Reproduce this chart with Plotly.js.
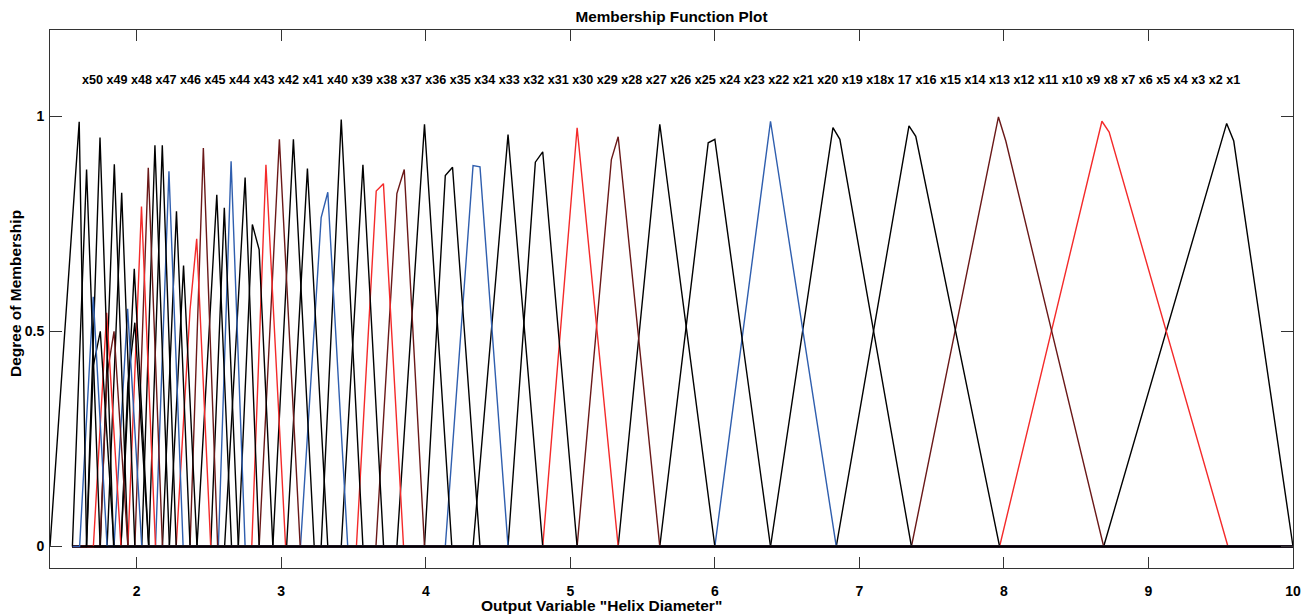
<!DOCTYPE html>
<html>
<head>
<meta charset="utf-8">
<script src="https://cdn.plot.ly/plotly-3.0.1.min.js"></script>
<style>html,body{margin:0;padding:0;background:#fff;}#chart{width:1307px;height:615px;}</style>
</head>
<body>
<div id="chart"></div>
<script>
// Membership functions, left to right (x50 ... x1)
const mfNames = ['x50','x49','x48','x47','x46','x45','x44','x43','x42','x41','x40','x39','x38','x37','x36','x35','x34','x33','x32','x31','x30','x29','x28','x27','x26','x25','x24','x23','x22','x21','x20','x19','x18','x17','x16','x15','x14','x13','x12','x11','x10','x9','x8','x7','x6','x5','x4','x3','x2','x1'];
const mfColorKey = ['K','K','B','K','K','R','M','K','K','B','K','K','R','M','K','K','B','K','K','R','M','K','K','B','K','K','R','M','K','K','B','K','K','R','M','K','K','B','K','K','R','M','K','K','B','K','K','M','R','K'];
const mfFootL = [1.40,1.555,1.605,1.653,1.652,1.70,1.746,1.748,1.795,1.843,1.891,1.891,1.939,1.987,2.035,2.083,2.130,2.178,2.226,2.273,2.369,2.417,2.512,2.565,2.608,2.703,2.796,2.847,2.942,3.037,3.133,3.276,3.415,3.52,3.655,3.800,3.991,4.135,4.327,4.569,4.809,5.047,5.331,5.619,6.0,6.385,6.84,7.36,7.97,8.69];
const mfFootR = [1.653,1.747,1.795,1.843,1.84,1.891,1.939,1.939,1.987,2.035,2.083,2.083,2.130,2.178,2.226,2.273,2.321,2.369,2.417,2.512,2.560,2.656,2.703,2.750,2.847,2.942,3.03,3.131,3.228,3.322,3.46,3.565,3.708,3.846,3.991,4.18,4.375,4.569,4.809,5.047,5.331,5.619,6.0,6.385,6.84,7.36,7.97,8.69,9.55,10.0];
const mfTopX = [[1.602],[1.653],[1.699],[1.700,1.748],[1.746],[1.792],[1.795,1.843],[1.845],[1.896],[1.937],[1.939,1.987],[1.983],[2.033],[2.080],[2.126],[2.177],[2.223],[2.275],[2.324],[2.369,2.415],[2.461],[2.554],[2.606],[2.653],[2.750],[2.800,2.847],[2.894],[2.987],[3.084],[3.181],[3.276,3.322],[3.415],[3.565],[3.657,3.707],[3.800,3.851],[3.991],[4.135,4.185],[4.327,4.375],[4.569],[4.758,4.809],[5.047],[5.284,5.331],[5.619],[5.954,6.0],[6.385],[6.817,6.865],[7.343,7.390],[7.962,8.013],[8.678,8.728],[9.541,9.590]];
const mfTopY = [[0.987],[0.876],[0.58],[0.42,0.5],[0.95],[0.543],[0.4,0.5],[0.888],[0.822],[0.552],[0.38,0.52],[0.645],[0.79],[0.88],[0.932],[0.932],[0.872],[0.779],[0.653],[0.55,0.715],[0.926],[0.817],[0.787],[0.895],[0.857],[0.748,0.69],[0.887],[0.946],[0.946],[0.878],[0.764,0.823],[0.992],[0.887],[0.826,0.843],[0.82,0.876],[0.981],[0.862,0.881],[0.885,0.882],[0.957],[0.893,0.917],[0.973],[0.899,0.952],[0.981],[0.938,0.946],[0.988],[0.973,0.946],[0.977,0.953],[0.998,0.942],[0.988,0.963],[0.983,0.942]];
const rangeX = [1.4, 10];
const baselineStart = 1.555;
const labelTokens = ['x50','x49','x48','x47','x46','x45','x44','x43','x42','x41','x40','x39','x38','x37','x36','x35','x34','x33','x32','x31','x30','x29','x28','x27','x26','x25','x24','x23','x22','x21','x20','x19','x18x','17','x16','x15','x14','x13','x12','x11','x10','x9','x8','x7','x6','x5','x4','x3','x2','x1'];
const xTickVals = [2,3,4,5,6,7,8,9,10];
const xTickText = ['2','3','4','5','6','7','8','9','10'];
const yTickVals = [0,0.5,1];
const yTickText = ['0','0.5','1'];

const palette = {K:'#000000', B:'#2f5eae', R:'#f42a2a', M:'#6a1818'};
// draw x1 first and x50 last (x50 ends up on top)
const order = mfNames.map((_,i)=>i).reverse();
const traces = order.map(i=>{
  const xs = [], ys = [];
  if (mfFootL[i] > baselineStart) { xs.push(baselineStart); ys.push(0); }
  xs.push(mfFootL[i], ...mfTopX[i], mfFootR[i]);
  ys.push(0, ...mfTopY[i], 0);
  if (mfFootR[i] < rangeX[1]) { xs.push(rangeX[1]); ys.push(0); }
  return {type:'scatter', mode:'lines', name:mfNames[i], hoverinfo:'name', x:xs, y:ys,
          line:{color:palette[mfColorKey[i]], width:1.4}, showlegend:false};
});

const F = 'Liberation Sans, Arial, sans-serif';
const layout = {
  width:1307, height:615,
  margin:{l:50, r:14, t:30, b:47},
  paper_bgcolor:'#ffffff', plot_bgcolor:'#ffffff',
  showlegend:false,
  title:{text:'Membership Function Plot', font:{family:F, size:15.3, color:'#000', weight:'bold'},
         x:0.5, xref:'paper', xanchor:'center', y:1-17/615, yref:'container', yanchor:'middle'},
  xaxis:{range:rangeX, tickvals:xTickVals, ticktext:xTickText, ticks:'inside', ticklen:11, tickcolor:'#333',
         showline:true, mirror:'ticks', linecolor:'#333', linewidth:1, showgrid:false, zeroline:false,
         ticklabelstandoff:10, tickfont:{family:F, size:14, color:'#000', weight:'bold'}},
  yaxis:{range:[-0.05,1.2], tickvals:yTickVals, ticktext:yTickText, ticks:'inside', ticklen:12, tickcolor:'#333',
         showline:true, mirror:'ticks', linecolor:'#333', linewidth:1, showgrid:false, zeroline:false,
         ticklabelstandoff:2, tickfont:{family:F, size:14, color:'#000', weight:'bold'}},
  annotations:[
    {text:labelTokens.join(' '), xref:'paper', yref:'y', x:(80-50)/1243, y:1.083, xanchor:'left', yanchor:'middle',
     showarrow:false, font:{family:F, size:12.6, color:'#000', weight:'bold'}},
    {text:'Output Variable "Helix Diameter"', xref:'paper', yref:'paper', x:(601-50)/1243, y:-(605-568)/538,
     xanchor:'center', yanchor:'middle', showarrow:false, font:{family:F, size:15.5, color:'#000', weight:'bold'}},
    {text:'Degree of Membership', xref:'paper', yref:'paper', x:-(50-15)/1243, y:(568-294)/538, textangle:-90,
     xanchor:'center', yanchor:'middle', showarrow:false, font:{family:F, size:15.5, color:'#000', weight:'bold'}}
  ]
};
Plotly.newPlot('chart', traces, layout, {displayModeBar:false, staticPlot:true});
</script>
</body>
</html>
